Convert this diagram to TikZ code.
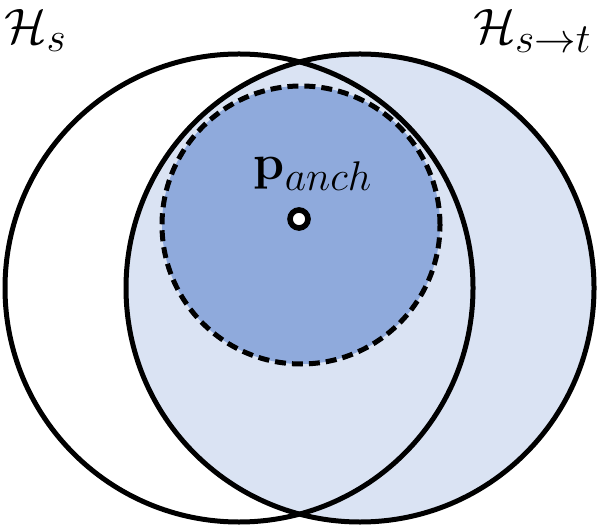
\documentclass[tikz,border=0pt]{standalone}
\usepackage{amsmath}
\usetikzlibrary{positioning}
\definecolor{lightblue}{HTML}{DAE3F3}
\definecolor{midblue}{HTML}{8FAADC}

\begin{document}
\begin{tikzpicture}[x=0.5pt, y=-0.5pt, line width=2.5pt,
  set/.style={circle, draw, minimum size=234pt, inner sep=0pt},
  region/.style={circle, draw, dash pattern=on 5.5pt off 3pt, fill=midblue, minimum size=139pt, inner sep=0pt},
  point/.style={circle, draw, fill=white, line width=2.8pt, minimum size=9pt, inner sep=0pt},
  lbl/.style={font=\fontsize{28}{32}\selectfont, inner sep=0pt}]
  \useasboundingbox (0,0) rectangle (598,528);
  \node[set, fill=lightblue] (h_st) at (360,288) {};
  \node[region] (anch) at (301,225) {};
  \node[set] (h_s) at (239,288) {};
  \node[point] (p) at (299,219) {};
  \node[lbl, on grid, above right=22.5pt and 7pt of p] (p_lbl) {$\mathbf{p}_{anch}$};
  \node[lbl, anchor=base west] (h_s_lbl) at (2,44) {$\mathcal{H}_s$};
  \node[lbl, anchor=base east] (h_st_lbl) at (594,44) {$\mathcal{H}_{s\rightarrow t}$};
\end{tikzpicture}
\end{document}
